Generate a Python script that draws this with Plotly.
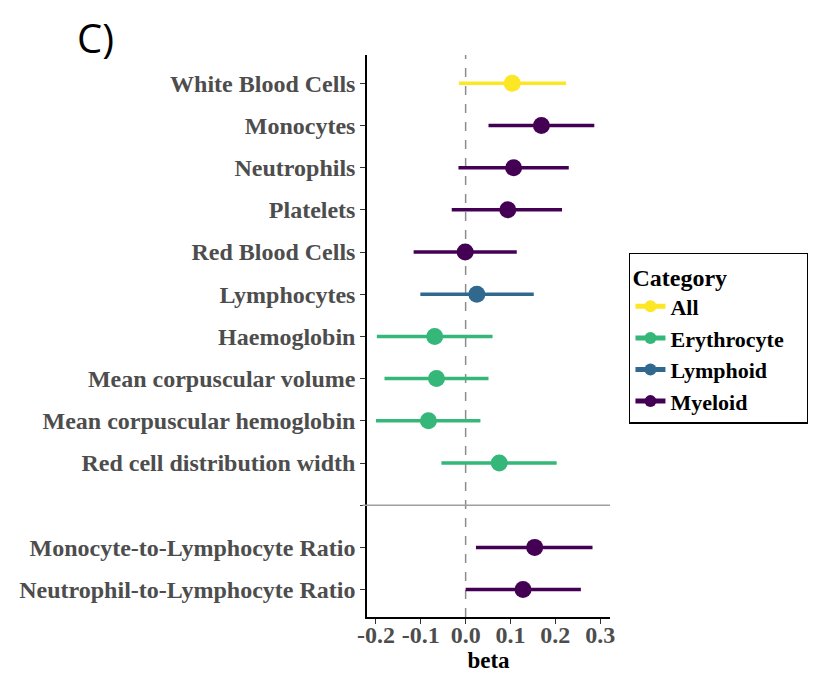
import plotly.graph_objects as go

# forest plot data, top to bottom
traits = ["White Blood Cells", "Monocytes", "Neutrophils", "Platelets",
          "Red Blood Cells", "Lymphocytes", "Haemoglobin",
          "Mean corpuscular volume", "Mean corpuscular hemoglobin",
          "Red cell distribution width", "",
          "Monocyte-to-Lymphocyte Ratio", "Neutrophil-to-Lymphocyte Ratio"]
category = ["All", "Myeloid", "Myeloid", "Myeloid", "Myeloid", "Lymphoid",
            "Erythrocyte", "Erythrocyte", "Erythrocyte", "Erythrocyte", None,
            "Myeloid", "Myeloid"]
beta = [0.104, 0.169, 0.107, 0.094, -0.001, 0.025, -0.069, -0.065, -0.083,
        0.075, None, 0.154, 0.128]
lower = [-0.015, 0.051, -0.016, -0.031, -0.116, -0.101, -0.198, -0.181,
         -0.200, -0.054, None, 0.023, 0.000]
upper = [0.224, 0.287, 0.230, 0.215, 0.114, 0.152, 0.060, 0.051, 0.033,
         0.203, None, 0.283, 0.257]

cat_order = ["All", "Erythrocyte", "Lymphoid", "Myeloid"]
colors = {"All": "#FDE725", "Erythrocyte": "#35B779",
          "Lymphoid": "#31688E", "Myeloid": "#440154"}

n = len(traits)
ypos = [n - 1 - i for i in range(n)]
serif = "Liberation Serif"

fig = go.Figure()
for cat in cat_order:
    xs, ys, sizes = [], [], []
    for i in range(n):
        if category[i] != cat:
            continue
        xs += [lower[i], beta[i], upper[i], None]
        ys += [ypos[i]] * 3 + [None]
        sizes += [0, 17, 0, 0]
    fig.add_trace(go.Scatter(
        x=xs, y=ys, mode="lines+markers", name=cat,
        line=dict(color=colors[cat], width=3.5),
        marker=dict(color=colors[cat], size=sizes, opacity=1,
                    line=dict(width=0)),
        connectgaps=False))

# separator line between the blocks and the reference line at zero
fig.add_shape(type="line", xref="paper", x0=-0.018, x1=1, yref="y",
              y0=2, y1=2, line=dict(color="#A0A0A0", width=1.5))
fig.add_shape(type="line", xref="x", x0=0, x1=0, yref="paper", y0=0, y1=1,
              line=dict(color="#8C8C8C", width=1.5, dash="dash"), layer="below")

fig.update_xaxes(
    range=[-0.22, 0.322], tickvals=[-0.2, -0.1, 0.0, 0.1, 0.2, 0.3],
    ticktext=["-0.2", "-0.1", "0.0", "0.1", "0.2", "0.3"],
    showgrid=False, zeroline=False, showline=True, linecolor="black",
    linewidth=1.5, ticks="outside", ticklen=5, tickcolor="#333333",
    automargin=False, ticklabelstandoff=-10,
    tickfont=dict(family=serif, size=24, color="#4D4D4D", weight="bold"),
    title=dict(text="<b>beta</b>", font=dict(family=serif, size=23,
               color="black"), standoff=2))
fig.update_yaxes(
    range=[-0.65, 12.67], tickvals=ypos, ticktext=traits,
    showgrid=False, zeroline=False, showline=True, linecolor="black",
    linewidth=1.5, ticks="outside", ticklen=5, tickcolor="#333333",
    automargin=False,
    tickfont=dict(family=serif, size=24, color="#4D4D4D", weight="bold"))

# page body adds an 8px offset, so the figure is drawn 8px smaller
# (trailing non-breaking spaces widen the legend box to the reference size)
fig.update_layout(
    width=808, height=666, plot_bgcolor="white", paper_bgcolor="white",
    margin=dict(l=359, r=206, t=47, b=57, autoexpand=False),
    showlegend=True,
    legend=dict(x=1.078, y=0.648, xanchor="left", yanchor="top",
                bordercolor="black", borderwidth=1.5, bgcolor="white",
                itemsizing="constant", tracegroupgap=0,
                title=dict(text="<b>Category</b>" + "&nbsp;" * 13,
                           font=dict(family=serif, size=24, color="black")),
                font=dict(family=serif, size=22, color="black", weight="bold")),
    annotations=[dict(text="C)", xref="paper", yref="paper", x=-1.2, y=1.083,
                      xanchor="left", yanchor="top", showarrow=False,
                      font=dict(family="Open Sans", size=40, color="black"))])

fig.write_html("out.html")
